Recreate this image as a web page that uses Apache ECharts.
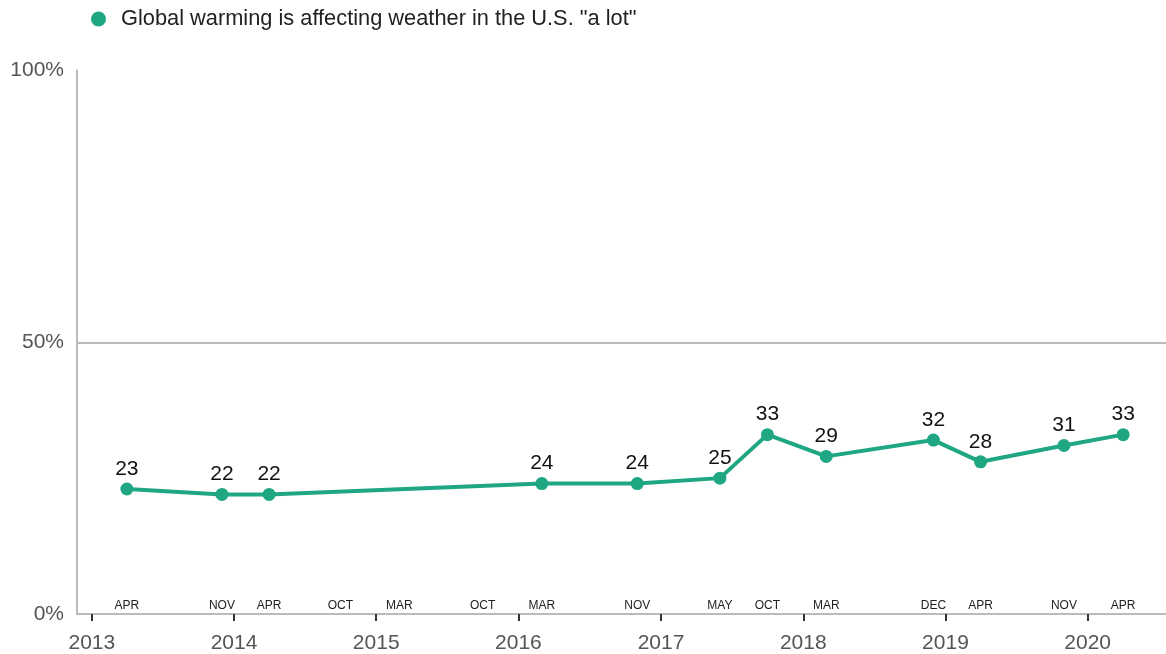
<!DOCTYPE html>
<html>
<head>
<meta charset="utf-8">
<script src="https://cdn.jsdelivr.net/npm/echarts@6/dist/echarts.min.js"></script>
<style>
html,body{margin:0;padding:0;background:#fff;}
#chart{width:1166px;height:654px;}
</style>
</head>
<body>
<div id="chart"></div>
<script>
// Survey dates (placed where the points sit on the time axis) and values
var surveyDates = ['2013-04-01','2013-12-01','2014-04-01','2016-03-01','2016-11-01','2017-06-01','2017-10-01','2018-03-01','2018-12-01','2019-04-01','2019-11-01','2020-04-01'];
var seriesValues = [23, 22, 22, 24, 24, 25, 33, 29, 32, 28, 31, 33];
var seriesName = 'Global warming is affecting weather in the U.S. "a lot"';

// Month labels along the bottom of the plot
var monthDates = ['2013-04-01','2013-12-01','2014-04-01','2014-10-01','2015-03-01','2015-10-01','2016-03-01','2016-11-01','2017-06-01','2017-10-01','2018-03-01','2018-12-01','2019-04-01','2019-11-01','2020-04-01'];
var monthLabels = ['APR','NOV','APR','OCT','MAR','OCT','MAR','NOV','MAY','OCT','MAR','DEC','APR','NOV','APR'];

// Year tick labels
var yearLabels = ['2013','2014','2015','2016','2017','2018','2019','2020'];
var yTicks = [0, 50, 100];

function ts(s){ var p = s.split('-'); return Date.UTC(+p[0], +p[1]-1, +p[2]); }

var yearTs = yearLabels.map(function(y){ return ts(y + '-01-01'); });
var monthTs = monthDates.map(ts);
var xMin = ts('2012-11-24');
var xMax = ts('2020-07-20');
var FONT = 'Liberation Sans, Arial, sans-serif';
var GREEN = '#1fa682';

var chart = echarts.init(document.getElementById('chart'), null, {renderer:'canvas'});
chart.setOption({
  animation: false,
  textStyle: {fontFamily: FONT},
  legend: {
    show: true,
    left: 86, top: 3,
    icon: 'circle',
    itemWidth: 15, itemHeight: 15,
    textStyle: {fontSize: 21.8, color: '#222', fontFamily: FONT, padding: [0,0,0,10]},
    data: [seriesName]
  },
  grid: {left: 77, right: 0, top: 70.5, bottom: 39.5, containLabel: false},
  xAxis: [{
    type: 'value',
    min: xMin, max: xMax,
    axisLine: {show: true, lineStyle: {color: '#bbb', width: 2}},
    axisTick: {show: true, customValues: yearTs, length: 7, lineStyle: {color: '#333', width: 2}},
    axisLabel: {
      customValues: yearTs,
      fontSize: 21, color: '#555', margin: 19, fontFamily: FONT,
      formatter: function(v){
        var i = yearTs.indexOf(v);
        return i >= 0 ? yearLabels[i] : '';
      }
    },
    splitLine: {show: false}
  }, {
    type: 'value',
    position: 'bottom',
    min: xMin, max: xMax,
    axisLine: {show: false},
    axisTick: {show: false},
    axisLabel: {
      inside: true,
      customValues: monthTs,
      fontSize: 12, color: '#222', margin: 2, fontFamily: FONT,
      formatter: function(v){
        var i = monthTs.indexOf(v);
        return i >= 0 ? monthLabels[i] : '';
      }
    },
    splitLine: {show: false}
  }],
  yAxis: {
    type: 'value',
    min: yTicks[0], max: yTicks[yTicks.length-1], interval: 50,
    axisLine: {show: true, lineStyle: {color: '#bbb', width: 2}},
    axisTick: {show: false},
    axisLabel: {fontSize: 21, color: '#555', margin: 13, fontFamily: FONT, formatter: '{value}%'},
    splitLine: {show: true, lineStyle: {color: ['#bbb', '#bbb', 'transparent'], width: 2}}
  },
  series: [{
    name: seriesName,
    type: 'line',
    xAxisIndex: 0,
    data: surveyDates.map(function(d, i){ return [ts(d), seriesValues[i]]; }),
    symbol: 'circle',
    symbolSize: 13,
    itemStyle: {color: GREEN},
    lineStyle: {color: GREEN, width: 4},
    label: {
      show: true, position: 'top', distance: 3,
      fontSize: 21, color: '#111', fontFamily: FONT,
      formatter: function(p){ return Math.round(p.value[1]); }
    },
    emphasis: {disabled: true}
  }]
});
</script>
</body>
</html>
